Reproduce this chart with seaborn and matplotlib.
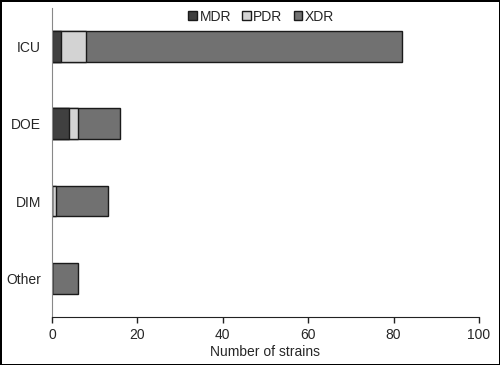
import pandas as pd
import matplotlib.pyplot as plt
import seaborn as sns
from matplotlib.patches import Patch

# values
wards = ["ICU", "DOE", "DIM", "Other"]
mdr = [2, 4, 0, 0]
pdr = [6, 2, 1, 0]
xdr = [74, 10, 12, 6]

colors = {"MDR": "#404040", "PDR": "#d3d3d3", "XDR": "#717171"}

df = pd.DataFrame({"Ward": wards, "MDR": mdr, "PDR": pdr, "XDR": xdr})
df["MDR_c"] = df["MDR"]
df["PDR_c"] = df["MDR"] + df["PDR"]
df["XDR_c"] = df["MDR"] + df["PDR"] + df["XDR"]

sns.set_style("white")
plt.rcParams["font.family"] = ["Liberation Sans", "DejaVu Sans"]

fig, ax = plt.subplots(figsize=(5, 3.65), dpi=100)
fig.subplots_adjust(left=0.104, right=0.958, top=0.978, bottom=0.132)

# stacked bars: draw totals first, then smaller cumulative sums on top
for col, key in [("XDR_c", "XDR"), ("PDR_c", "PDR"), ("MDR_c", "MDR")]:
    sns.barplot(data=df, x=col, y="Ward", order=wards, orient="h",
                color=colors[key], saturation=1, width=0.4,
                edgecolor="#1a1a1a", linewidth=1.0, ax=ax)

ax.set_xlim(0, 100)
ax.set_ylim(3.5, -0.5)
ax.set_xticks([0, 20, 40, 60, 80, 100])
ax.set_xlabel("Number of strains", fontsize=10, labelpad=2)
ax.set_ylabel("")
ax.tick_params(axis="x", direction="out", length=4, width=1, color="#222222",
               labelsize=10, pad=4, bottom=True)
ax.tick_params(axis="y", length=0, labelsize=10, pad=8)
for s in ["top", "right"]:
    ax.spines[s].set_visible(False)
ax.spines["left"].set_color("#888888")
ax.spines["bottom"].set_color("#222222")

handles = [Patch(facecolor=colors[k], edgecolor="#1a1a1a", label=k)
           for k in ["MDR", "PDR", "XDR"]]
ax.legend(handles=handles, loc="upper center", bbox_to_anchor=(0.49, 1.035),
          ncol=3, frameon=False, fontsize=10, handlelength=0.6,
          handleheight=0.6, handletextpad=0.2, columnspacing=0.8)

fig.patch.set_edgecolor("black")
fig.patch.set_linewidth(2)
plt.savefig("out.png", dpi=100, edgecolor=fig.get_edgecolor())
